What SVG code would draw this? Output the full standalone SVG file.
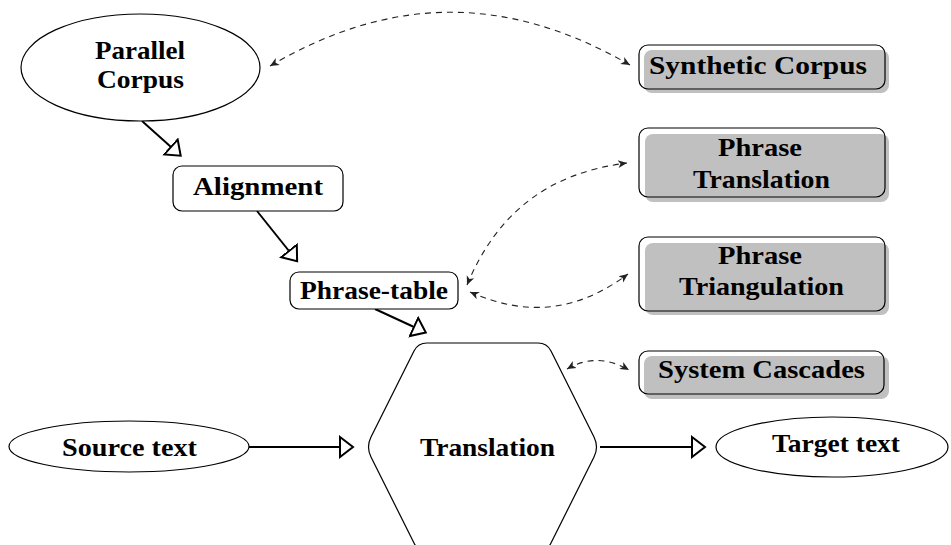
<svg xmlns="http://www.w3.org/2000/svg" width="951" height="545" viewBox="0 0 951 545">
  <style>
    .lbl { font-family: "Liberation Serif", "Times New Roman", serif; font-weight: bold; font-size: 26px; fill: #000; text-anchor: middle; }
    .outline { fill: #fff; stroke: #000; stroke-width: 1.2; }
    .frame { fill: none; stroke: #000; stroke-width: 1.2; }
    .shade { fill: #c0c0c0; filter: url(#soft); }
    .flow { fill: none; stroke: #000; stroke-width: 2; marker-end: url(#tri); }
    .link { fill: none; stroke: #222; stroke-width: 1.1; stroke-dasharray: 6 5; marker-start: url(#stealth); marker-end: url(#stealth); }
  </style>
  <defs>
    <filter id="soft" x="-5%" y="-10%" width="110%" height="120%">
      <feGaussianBlur stdDeviation="0.7"/>
    </filter>
    <marker id="tri" viewBox="0 0 16 24" markerWidth="16" markerHeight="24" refX="1" refY="12" orient="auto" markerUnits="userSpaceOnUse">
      <path d="M1,2 L14,12 L1,22 Z" fill="#fff" stroke="#000" stroke-width="2" stroke-linejoin="miter"/>
    </marker>
    <marker id="stealth" viewBox="0 0 10 10" markerWidth="10" markerHeight="10" refX="9" refY="5" orient="auto-start-reverse" markerUnits="userSpaceOnUse">
      <path d="M0,1 L9,5 L0,9 L2.5,5 Z" fill="#222"/>
    </marker>
  </defs>

  <!-- connectors -->
  <g id="connectors">
    <path class="flow" d="M142,121 L171,147"/>
    <path class="flow" d="M257,211 L289,251"/>
    <path class="flow" d="M375,309 L414,327"/>
    <path class="flow" d="M249,447 L340,447"/>
    <path class="flow" d="M600,447 L692,447"/>
    <path class="link" d="M270,66 C391,-5 507,-6 630,65"/>
    <path class="link" d="M467,285 C497,213 548,173 627,163"/>
    <path class="link" d="M470,292 C527,317 577,312 628,274"/>
    <path class="link" d="M567,369 C588,357 608,358 629,370"/>
  </g>

  <!-- nodes -->
  <g id="parallel-corpus">
    <ellipse class="outline" cx="140.5" cy="67.5" rx="119.5" ry="53.5"/>
    <text class="lbl" x="140" y="59" textLength="90" lengthAdjust="spacingAndGlyphs">Parallel</text>
    <text class="lbl" x="140.5" y="88" textLength="87" lengthAdjust="spacingAndGlyphs">Corpus</text>
  </g>

  <g id="alignment">
    <rect class="outline" x="173" y="166" width="170" height="45" rx="9"/>
    <text class="lbl" x="258" y="195" textLength="130" lengthAdjust="spacingAndGlyphs">Alignment</text>
  </g>

  <g id="phrase-table">
    <rect class="outline" x="290" y="272" width="168" height="37" rx="9"/>
    <text class="lbl" x="374" y="299" textLength="148" lengthAdjust="spacingAndGlyphs">Phrase-table</text>
  </g>

  <g id="translation">
    <path class="outline" d="M427,343 L538,343 Q547,343 551,351 L594,437 Q599,447 594,457 L551,543 Q547,551 538,551 L427,551 Q418,551 414,543 L371,457 Q366,447 371,437 L414,351 Q418,343 427,343 Z"/>
    <text class="lbl" x="487.5" y="456" textLength="135" lengthAdjust="spacingAndGlyphs">Translation</text>
  </g>

  <g id="source-text">
    <ellipse class="outline" cx="129" cy="446.5" rx="120" ry="25.5"/>
    <text class="lbl" x="129.5" y="456" textLength="135" lengthAdjust="spacingAndGlyphs">Source text</text>
  </g>

  <g id="target-text">
    <ellipse class="outline" cx="832" cy="447" rx="116" ry="30"/>
    <text class="lbl" x="836" y="452" textLength="128" lengthAdjust="spacingAndGlyphs">Target text</text>
  </g>

  <g id="synthetic-corpus">
    <rect class="shade" x="644" y="50" width="245" height="43" rx="8"/>
    <rect class="frame" x="639" y="45" width="246" height="44" rx="9"/>
    <text class="lbl" x="758" y="74" textLength="218" lengthAdjust="spacingAndGlyphs">Synthetic Corpus</text>
  </g>

  <g id="phrase-translation">
    <rect class="shade" x="645" y="134" width="244" height="68" rx="8"/>
    <rect class="frame" x="639" y="128" width="246" height="69" rx="9"/>
    <text class="lbl" x="760" y="156" textLength="84" lengthAdjust="spacingAndGlyphs">Phrase</text>
    <text class="lbl" x="761.5" y="188" textLength="137" lengthAdjust="spacingAndGlyphs">Translation</text>
  </g>

  <g id="phrase-triangulation">
    <rect class="shade" x="645" y="243" width="244" height="72" rx="8"/>
    <rect class="frame" x="639" y="237" width="246" height="74" rx="9"/>
    <text class="lbl" x="760" y="264" textLength="84" lengthAdjust="spacingAndGlyphs">Phrase</text>
    <text class="lbl" x="761.5" y="295" textLength="165" lengthAdjust="spacingAndGlyphs">Triangulation</text>
  </g>

  <g id="system-cascades">
    <rect class="shade" x="644" y="356" width="245" height="43" rx="8"/>
    <rect class="frame" x="639" y="351" width="245" height="43" rx="9"/>
    <text class="lbl" x="761.5" y="378" textLength="207" lengthAdjust="spacingAndGlyphs">System Cascades</text>
  </g>
</svg>
